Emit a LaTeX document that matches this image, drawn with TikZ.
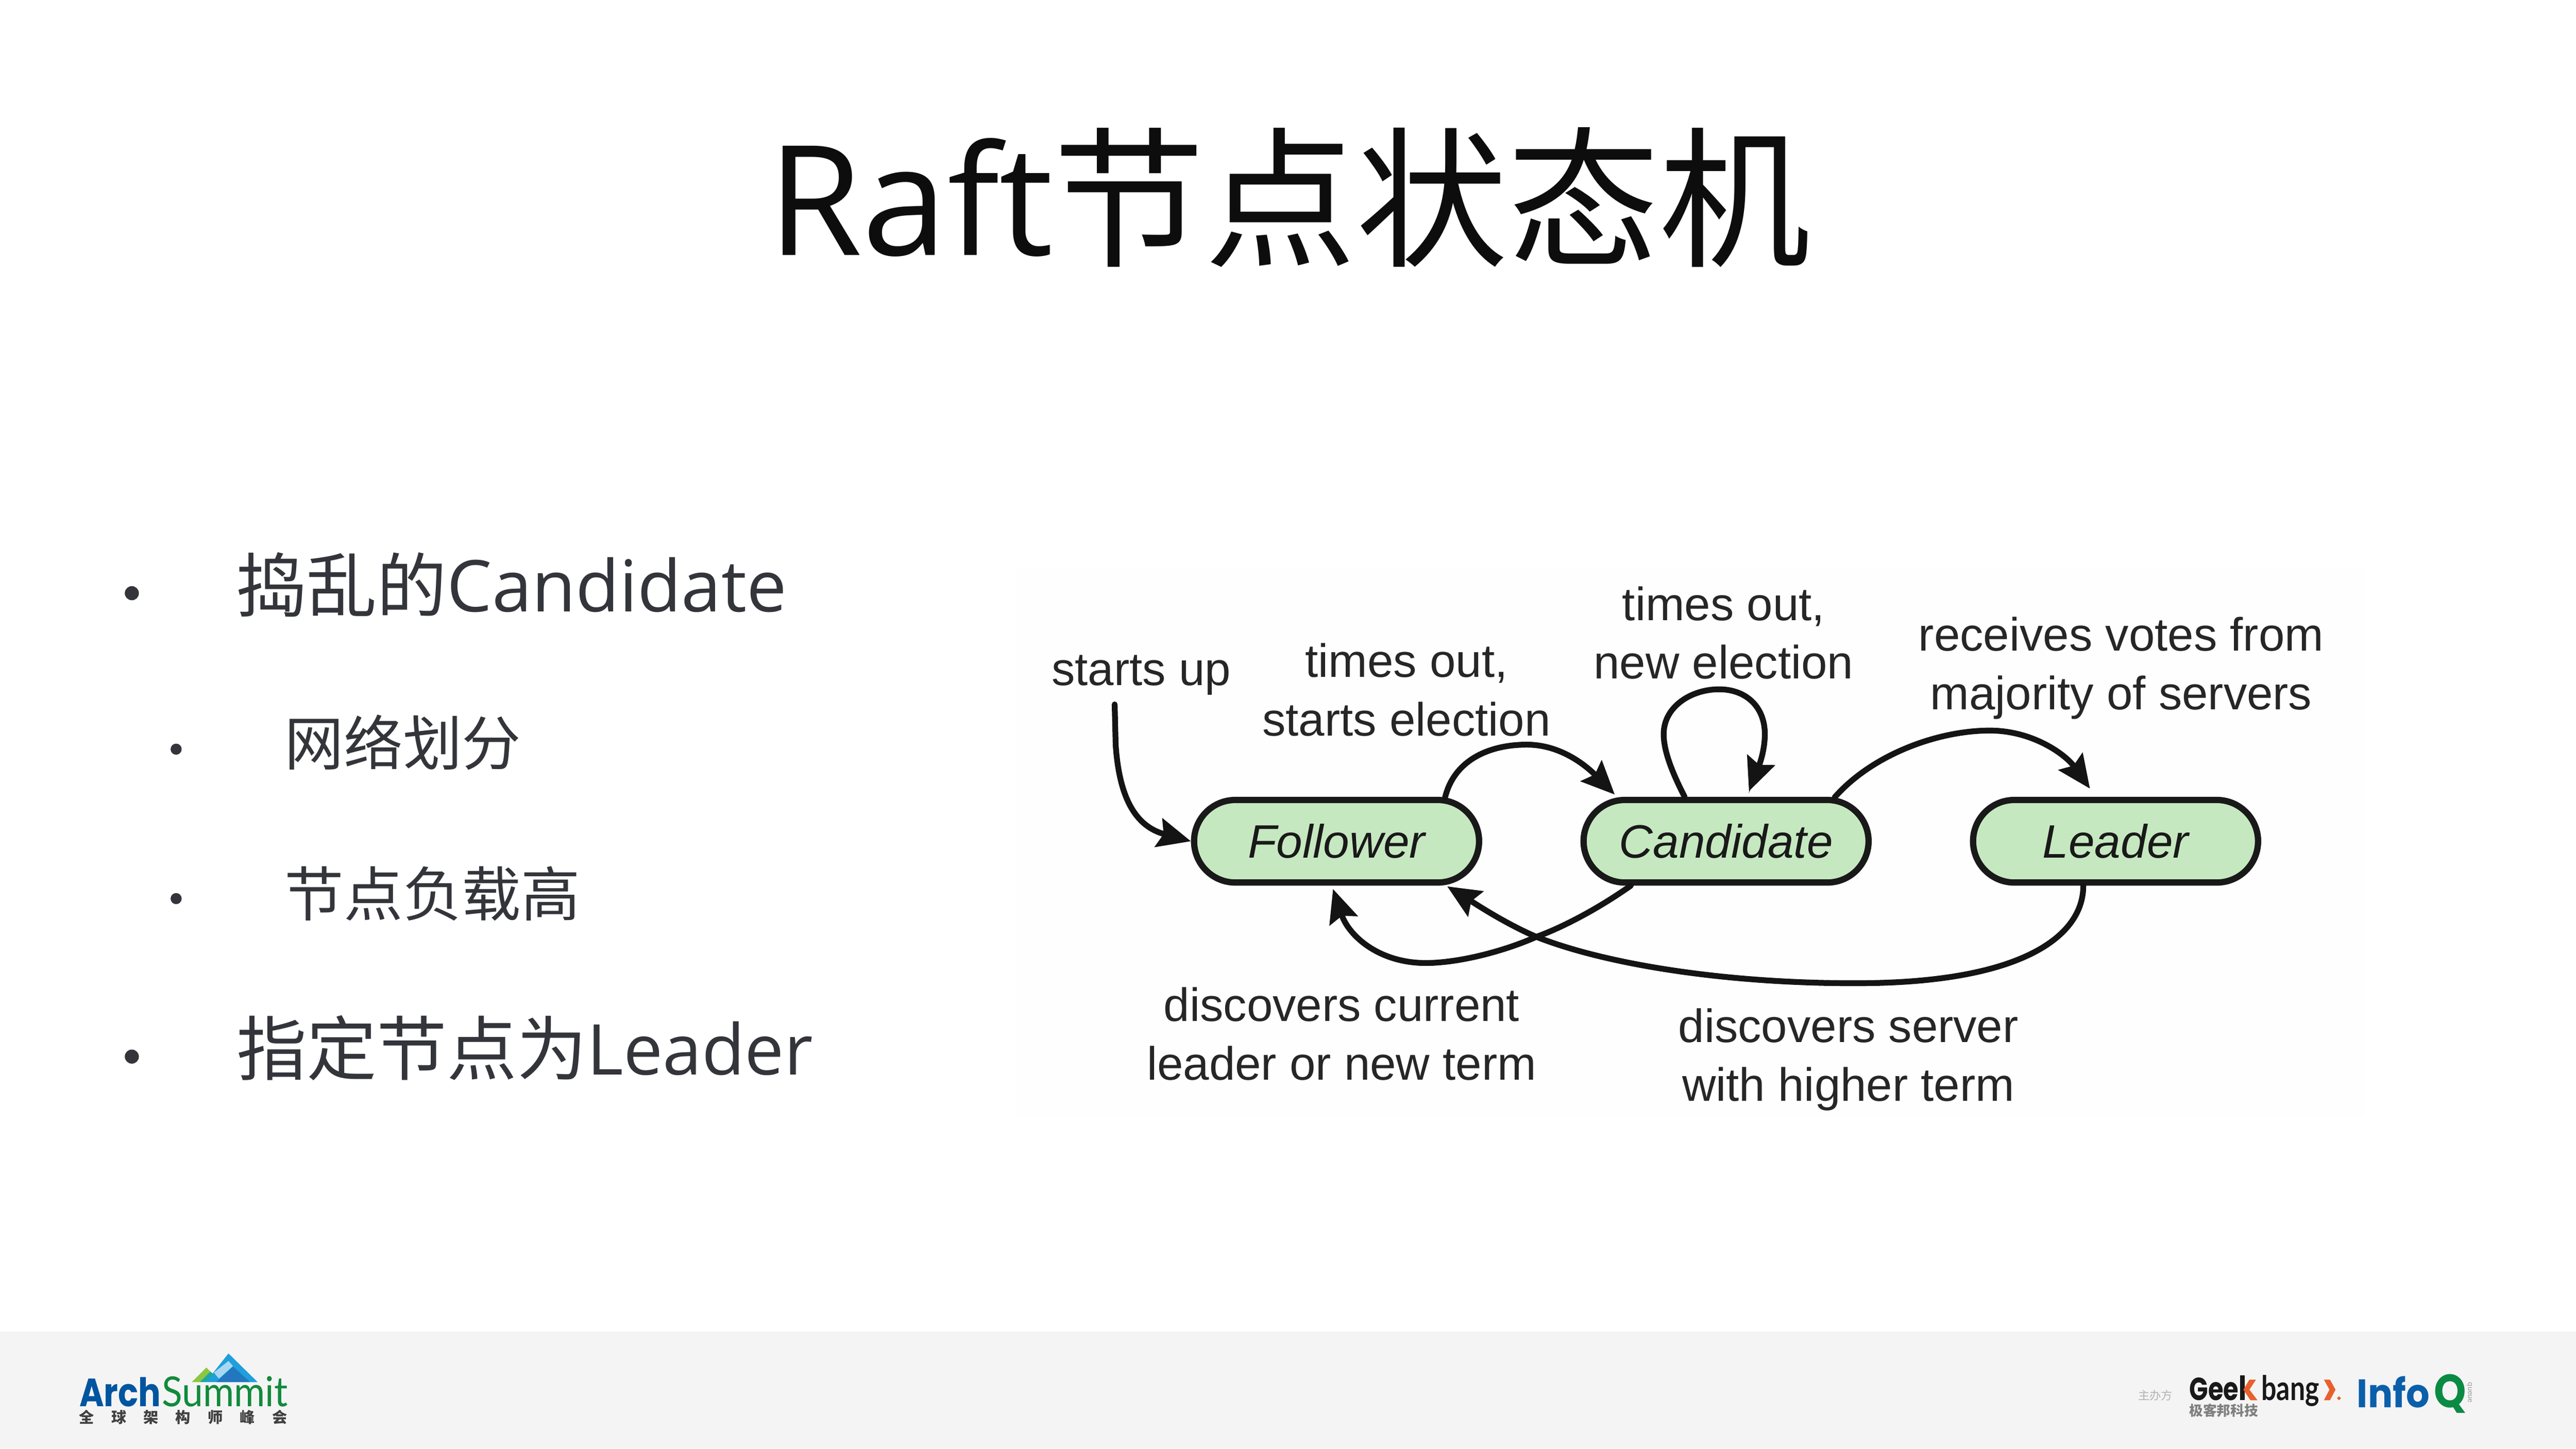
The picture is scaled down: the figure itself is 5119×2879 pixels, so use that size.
\documentclass[tikz,border=0pt]{standalone}
\usepackage{fontspec}
\usetikzlibrary{arrows.meta,shapes.misc}
\setmainfont{Liberation Sans}
\newfontfamily\cjk{Noto Sans CJK SC}
\newfontfamily\oslat{Open Sans}
\newfontfamily\lato{Lato}
\newfontfamily\pop{Poppins}
\newcommand{\fs}[1]{\fontsize{#1pt}{#1pt}\selectfont}
\definecolor{nodegreen}{HTML}{C6E8C0}
\definecolor{bodytxt}{HTML}{33353B}
\definecolor{footbg}{HTML}{F4F4F4}
\definecolor{panelbg}{HTML}{FEFEFE}
\definecolor{archblue}{HTML}{0055A0}
\definecolor{archgreen}{HTML}{118A3C}
\definecolor{geekorange}{HTML}{E8602C}
\definecolor{infoblue}{HTML}{0B5FAA}
\definecolor{infogreen}{HTML}{0B8A44}
\definecolor{mtlight}{HTML}{1F9FDB}
\definecolor{mtgreen}{HTML}{8DC63F}
\definecolor{mtteal}{HTML}{1FA89A}
\definecolor{mtpale}{HTML}{A8D8F0}
\definecolor{mtdark}{HTML}{2277BE}
\tikzset{
  state/.style={rounded rectangle,draw=black!90,fill=nodegreen,line width=0.125cm,
    minimum width=5.66cm,minimum height=1.64cm,inner sep=0pt,text=black!90,font=\fs{26.5}\itshape},
  lbl/.style={align=center,inner sep=0pt,text=black!85,font=\fs{26.4}\setlength{\baselineskip}{1.16cm}},
  conn/.style={draw=black!92,line width=0.115cm,line cap=round,
    -{Stealth[length=0.66cm,width=0.58cm,inset=0.1cm]}},
  bigtxt/.style={anchor=west,inner sep=0pt,text=bodytxt,font=\fs{39.6}},
  subtxt/.style={anchor=west,inner sep=0pt,text=bodytxt,font=\fs{33.4}},
  dotbig/.style={circle,fill=bodytxt,inner sep=0pt,minimum size=0.28cm},
  dotsub/.style={circle,fill=bodytxt,inner sep=0pt,minimum size=0.22cm},
}
\begin{document}
\begin{tikzpicture}[x=0.01cm,y=-0.01cm]
\useasboundingbox (0,0) rectangle (5119,2879);
\fill[white] (0,0) rectangle (5119,2879);
\fill[footbg] (0,2646) rectangle (5119,2879);
\fill[panelbg] (2020,1130) rectangle (4700,2220);

% title
\node[anchor=west,inner sep=0pt,text=black!95] (title) at (1525,392) {\fs{86.5}\oslat Raft\fs{85.6}\cjk 节点状态机};

% bullets
\node[dotbig] (b1) at (262,1179) {};
\node[bigtxt] (t1) at (470,1162) {\cjk 捣乱的\fs{40.4}\oslat Candidate};
\node[dotsub] (b2) at (350,1489) {};
\node[subtxt] (t2) at (565,1476) {\cjk 网络划分};
\node[dotsub] (b3) at (350,1786) {};
\node[subtxt] (t3) at (565,1776) {\cjk 节点负载高};
\node[dotbig] (b4) at (262,2100) {};
\node[bigtxt] (t4) at (470,2083) {\cjk 指定节点为\oslat Leader};

% states
\node[state] (follower) at (2656,1672) {Follower};
\node[state] (candidate) at (3430,1672) {Candidate};
\node[state] (leader) at (4204,1672) {Leader};

% labels
\node[lbl] (l1) at (2268,1342) {starts up};
\node[lbl] (l2) at (2795,1371) {times out,\\starts election};
\node[lbl] (l3) at (3425,1258) {times out,\\new election};
\node[lbl] (l4) at (4215,1328) {receives votes from\\majority of servers};
\node[lbl] (l5) at (2666,2055) {discovers current\\leader or new term};
\node[lbl] (l6) at (3673,2106) {discovers server\\with higher term};

% connectors
\coordinate (su) at (2215,1400);
\draw[conn] (su) -- (2217,1480) .. controls (2225,1600) and (2265,1645) .. (follower.west);
\draw[conn,shorten >=0.08cm] (follower.22) .. controls (2890,1510) and (2960,1480) .. (3034,1480)
  .. controls (3100,1480) and (3150,1520) .. (candidate.158);
\draw[conn,shorten >=0.12cm] (candidate.133) .. controls (3320,1530) and (3306,1490) .. (3306,1459)
  .. controls (3306,1405) and (3360,1370) .. (3416,1370)
  .. controls (3470,1370) and (3507,1405) .. (3507,1459)
  .. controls (3507,1500) and (3490,1535) .. (candidate.65);
\draw[conn,shorten >=0.2cm] (candidate.22) .. controls (3720,1500) and (3850,1452) .. (3954,1452)
  .. controls (4040,1452) and (4105,1500) .. (leader.114);
\draw[conn,shorten >=0.05cm] (leader.234) .. controls (4140,1860) and (4020,1950) .. (3712,1954)
  .. controls (3450,1957) and (3200,1920) .. (3053,1862)
  .. controls (2990,1835) and (2930,1795) .. (follower.338);
\draw[conn,shorten >=0.07cm] (candidate.205) .. controls (3170,1810) and (3100,1845) .. (3053,1862)
  .. controls (2990,1890) and (2900,1914) .. (2833,1914)
  .. controls (2740,1914) and (2680,1860) .. (follower.264);

% ArchSummit logo
\fill[mtlight] (454,2690) -- (512,2747) -- (409,2747) -- cycle;
\fill[mtgreen] (381,2747) -- (410,2718) -- (418,2726) -- (397,2747) -- cycle;
\fill[mtteal] (397,2747) -- (418,2726) -- (424,2731) -- (409,2747) -- cycle;
\fill[mtpale] (425,2728) -- (454,2705) -- (463,2715) -- (435,2740) -- cycle;
\fill[mtdark] (430,2747) -- (463,2716) -- (497,2747) -- cycle;
\node[anchor=base west,inner sep=0pt,text=archblue] (arch) at (157,2795) {\resizebox{1.62cm}{0.58cm}{\pop\bfseries Arch}};
\node[anchor=base west,inner sep=0pt,text=archgreen] (summit) at (321,2795) {\resizebox{2.5cm}{0.6cm}{\lato Summit}};
\node[anchor=center,inner sep=0pt,text=black!75] (archcn) at (364,2817) {\fs{8.5}\cjk\bfseries 全\hspace{0.34cm}球\hspace{0.34cm}架\hspace{0.34cm}构\hspace{0.34cm}师\hspace{0.34cm}峰\hspace{0.34cm}会};

% Geekbang + InfoQ
\node[anchor=center,inner sep=0pt,text=black!30] (host) at (4283,2773) {\fs{6.5}\cjk 主办方};
\node[anchor=base west,inner sep=0pt,text=black!90] (geek) at (4350,2783) {\resizebox{0.98cm}{0.45cm}{\pop\bfseries Gee}};
\fill[black!90] (4451,2734) rectangle (4461,2783);
\fill[geekorange] (4458,2762) -- (4470,2742) -- (4483,2742) -- (4470,2762) -- (4486,2783) -- (4472,2783) -- cycle;
\node[anchor=base west,inner sep=0pt,text=black!90] (bang) at (4493,2783) {\resizebox{1.15cm}{0.5cm}{\lato\bfseries bang}};
\fill[geekorange] (4618,2742) -- (4630,2742) -- (4641,2762) -- (4630,2783) -- (4618,2783) -- (4629,2762) -- cycle;
\fill[geekorange] (4648,2775) -- (4652,2779) -- (4648,2783) -- (4644,2779) -- cycle;
\node[anchor=center,inner sep=0pt,text=black!50] (geekcn) at (4419,2803) {\fs{7.8}\cjk\bfseries 极客邦科技};
\node[anchor=base west,inner sep=0pt,text=infoblue] (info) at (4683,2798) {\resizebox{1.44cm}{0.62cm}{\pop\bfseries Info}};
\node[anchor=base west,inner sep=0pt,text=infogreen] (infoq) at (4836,2798) {\resizebox{0.64cm}{0.66cm}{\pop\bfseries Q}};
\node[anchor=center,inner sep=0pt,text=black!40,rotate=-90] (queue) at (4907,2768) {\fs{4.2}\lato queue};
\end{tikzpicture}
\end{document}
